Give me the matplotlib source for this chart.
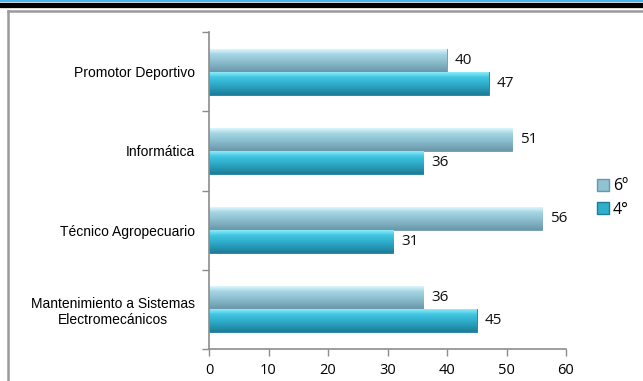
import numpy as np
import matplotlib
matplotlib.use('Agg')
import matplotlib.pyplot as plt
from matplotlib.colors import LinearSegmentedColormap
from matplotlib.patches import Patch
from matplotlib.lines import Line2D

# Datos
categorias = ['Mantenimiento a Sistemas\nElectromecánicos', 'Técnico Agropecuario',
              'Informática', 'Promotor Deportivo']
sexto = [36, 56, 51, 40]
cuarto = [45, 31, 36, 47]
series = ['6º', '4°']

# colores (claro, medio, oscuro)
col_sexto = ['#dcf7fd', '#a6d6e4', '#8fc2d2', '#6a97a9']
col_cuarto = ['#8cecfa', '#42c6e2', '#30afcd', '#1c7d99']

fig = plt.figure(figsize=(6.43, 3.81), dpi=100)
ax = fig.add_axes([209 / 643, 1 - 349 / 381, 357 / 643, 317 / 381])

y = np.arange(len(categorias))
alto = 0.29

barras_6 = ax.barh(y + alto / 2, sexto, height=alto, color=col_sexto[2],
                   edgecolor=col_sexto[3], linewidth=0.6, zorder=2)
barras_4 = ax.barh(y - alto / 2, cuarto, height=alto, color=col_cuarto[2],
                   edgecolor=col_cuarto[3], linewidth=0.6, zorder=2)


def degradado(barras, cols):
    cmap = LinearSegmentedColormap.from_list(
        'g', [(0, cols[3]), (0.5, cols[2]), (0.78, cols[1]), (1, cols[0])])
    grad = np.linspace(0, 1, 64).reshape(-1, 1)
    for b in barras:
        x0, y0 = b.get_x(), b.get_y()
        w, h = b.get_width(), b.get_height()
        im = ax.imshow(grad, cmap=cmap, aspect='auto', origin='lower',
                       extent=[x0, x0 + w, y0, y0 + h], zorder=2.5)
        im.set_clip_path(b)


degradado(barras_6, col_sexto)
degradado(barras_4, col_cuarto)

# etiquetas de valores
for barras in (barras_6, barras_4):
    for b in barras:
        ax.text(b.get_width() + 1.3, b.get_y() + b.get_height() / 2,
                str(int(b.get_width())), va='center', ha='left',
                fontsize=11, family='Open Sans', color='#111111')

ax.set_xlim(0, 60)
ax.set_ylim(-0.5, 3.5)
ax.set_xticks(np.arange(0, 61, 10))
ax.set_xticklabels([str(v) for v in range(0, 61, 10)], fontsize=10.5,
                   family='Open Sans')
ax.set_yticks(np.arange(-0.5, 3.6, 1.0))
ax.set_yticklabels([])
ax.set_yticks(y, minor=True)
ax.set_yticklabels(categorias, minor=True, fontsize=10, family='Liberation Sans',
                   multialignment='center')
ax.tick_params(axis='y', which='minor', length=0, pad=10)
ax.tick_params(axis='y', which='major', length=5, color='#8c8c8c', width=1)
ax.tick_params(axis='x', length=5, color='#8c8c8c', width=1, pad=5)

for s in ('top', 'right'):
    ax.spines[s].set_visible(False)
for s in ('left', 'bottom'):
    ax.spines[s].set_color('#8c8c8c')
    ax.spines[s].set_linewidth(1.2)

# leyenda
h = [Patch(facecolor=col_sexto[2], edgecolor=col_sexto[3]),
     Patch(facecolor=col_cuarto[2], edgecolor=col_cuarto[3])]
fig.legend(h, series, loc='center left', bbox_to_anchor=(597 / 643, 1 - 198 / 381),
           frameon=False, prop={'family': 'Open Sans', 'size': 11.5},
           handlelength=0.75, handleheight=0.75, handletextpad=0.25,
           labelspacing=0.45, borderaxespad=0, borderpad=0)

# marco exterior
fig.add_artist(Line2D([0, 1], [1 - 1 / 381, 1 - 1 / 381], color='#4ab6ee',
                      linewidth=1.6, transform=fig.transFigure))
fig.add_artist(Line2D([0, 1], [1 - 4.5 / 381, 1 - 4.5 / 381], color='black',
                      linewidth=3.8, transform=fig.transFigure))
fig.add_artist(Line2D([8 / 643, 1], [1 - 11 / 381, 1 - 11 / 381], color='#9a9a9a',
                      linewidth=1.8, transform=fig.transFigure))
fig.add_artist(Line2D([8 / 643, 8 / 643], [0, 1 - 11 / 381], color='#9a9a9a',
                      linewidth=1.8, transform=fig.transFigure))

fig.savefig('out.png', dpi=100)
